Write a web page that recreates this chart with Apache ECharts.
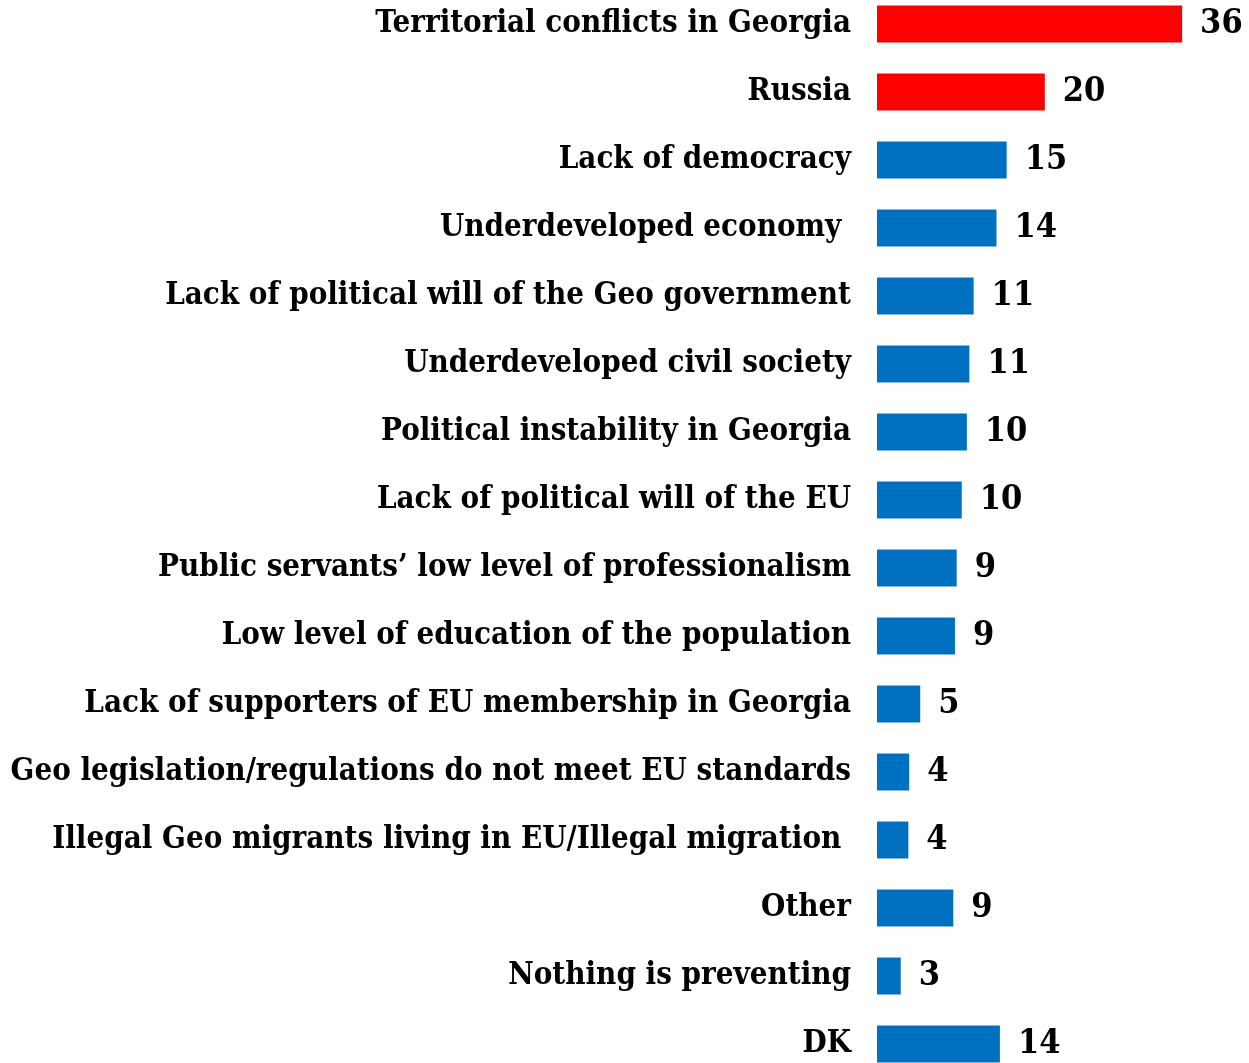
<!DOCTYPE html>
<html>
<head>
<meta charset="utf-8">
<script src="https://cdn.jsdelivr.net/npm/echarts@6/dist/echarts.min.js"></script>
<style>
   html, body { margin: 0; padding: 0; background: #ffffff; }
   #chart { width: 1249px; height: 1063px; }
</style>
</head>
<body>
<div id="chart"></div>
<script>

// categories, top to bottom
const categories = [
   "Territorial conflicts in Georgia",
   "Russia",
   "Lack of democracy",
   "Underdeveloped economy ",
   "Lack of political will of the Geo government",
   "Underdeveloped civil society",
   "Political instability in Georgia",
   "Lack of political will of the EU",
   "Public servants\u2019 low level of professionalism",
   "Low level of education of the population",
   "Lack of supporters of EU membership in Georgia",
   "Geo legislation/regulations do not meet EU standards",
   "Illegal Geo migrants living in EU/Illegal migration ",
   "Other",
   "Nothing is preventing",
   "DK"
];

// bar lengths
const barValues = [36.0, 19.8, 15.3, 14.1, 11.4, 10.9, 10.6, 10.0, 9.4, 9.2, 5.1, 3.8, 3.7, 9.0, 2.8, 14.5];

// numbers printed next to the bars
const valueLabels = [36, 20, 15, 14, 11, 11, 10, 10, 9, 9, 5, 4, 4, 9, 3, 14];

// how many of the top bars are red
const numHighlighted = 2;

const red = '#ff0000';
const blue = '#0070c0';
const fontName = "'DejaVu Serif Condensed', 'DejaVu Serif', serif";

const chart = echarts.init(document.getElementById('chart'));

const seriesData = [];
for (let i = 0; i < barValues.length; i++)
{
   seriesData.push(
   {
      value: barValues[i],
      itemStyle: { color: i < numHighlighted ? red : blue }
   });
}

var option =
{
   animation: false,
   backgroundColor: '#ffffff',
   grid:
   {
      left: 877,
      width: 339,
      top: -10,
      height: 1088,
      outerBoundsMode: 'none'
   },
   xAxis:
   {
      type: 'value',
      min: 0,
      max: 40,
      show: false
   },
   yAxis:
   {
      type: 'category',
      data: categories,
      inverse: true,
      axisLine: { show: false },
      axisTick: { show: false },
      splitLine: { show: false },
      axisLabel:
      {
         margin: 26,
         color: '#000000',
         fontFamily: fontName,
         fontWeight: 'bold',
         fontSize: 31
      }
   },
   series:
   [
      {
         type: 'bar',
         data: seriesData,
         barWidth: 37,
         label:
         {
            show: true,
            position: 'right',
            distance: 18,
            color: '#000000',
            fontFamily: fontName,
            fontWeight: 'bold',
            fontSize: 34,
            formatter: (p) => valueLabels[p.dataIndex]
         }
      }
   ]
};

chart.setOption(option);

</script>
</body>
</html>
